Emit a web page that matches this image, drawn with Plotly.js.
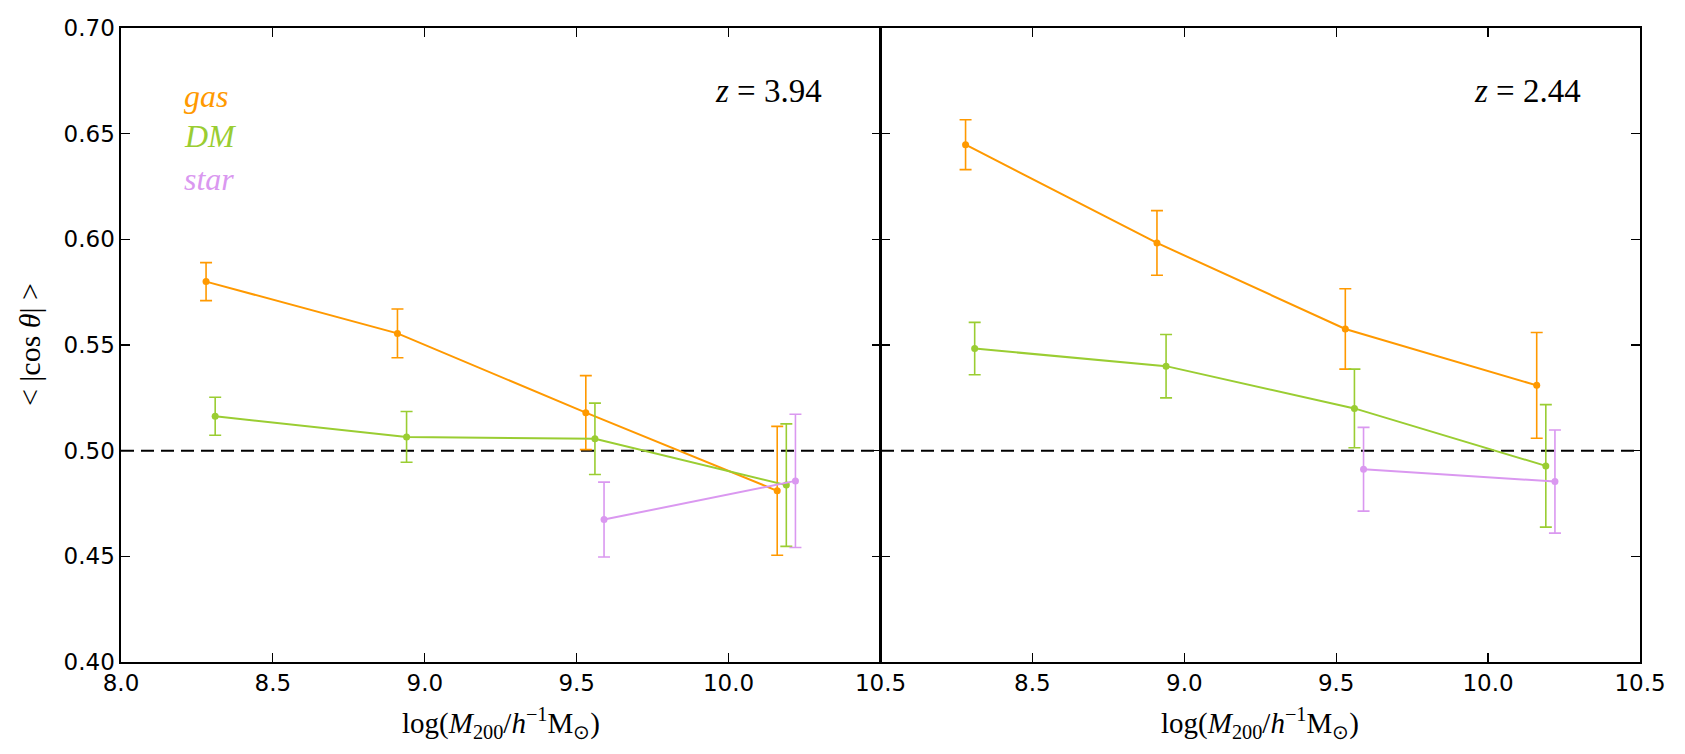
<!DOCTYPE html>
<html>
<head>
<meta charset="utf-8">
<script src="https://cdn.plot.ly/plotly-3.0.1.min.js"></script>
<style>html,body{margin:0;padding:0;background:#fff;}#chart{width:1685px;height:754px;}</style>
</head>
<body>
<div id="chart"></div>
<script>
// ---- data ----
const gasX  = [8.28, 8.91, 9.53, 10.16];
const dmX   = [8.31, 8.94, 9.56, 10.19];
const starX = [9.59, 10.22];

// panel 1: z = 3.94
const gasY1  = [0.580, 0.5555, 0.518, 0.481];
const gasE1  = [0.009, 0.0115, 0.0175, 0.0305];
const dmY1   = [0.5163, 0.5065, 0.5056, 0.4837];
const dmE1   = [0.009, 0.012, 0.0169, 0.029];
const starY1 = [0.4674, 0.4857];
const starE1 = [0.0177, 0.0315];

// panel 2: z = 2.44
const gasY2  = [0.6448, 0.5983, 0.5576, 0.5309];
const gasE2  = [0.0118, 0.0153, 0.019, 0.025];
const dmY2   = [0.5483, 0.540, 0.520, 0.4928];
const dmE2   = [0.0124, 0.015, 0.0186, 0.029];
const starY2 = [0.4912, 0.4854];
const starE2 = [0.0198, 0.0244];

const panelLabels = ["z = 3.94", "z = 2.44"];
const seriesNames = ["gas", "DM", "star"];
const refLevel = 0.5;
const xTicks1 = [8.0, 8.5, 9.0, 9.5, 10.0, 10.5];
const xTicks2 = [8.5, 9.0, 9.5, 10.0, 10.5];
const yTicks  = [0.40, 0.45, 0.50, 0.55, 0.60, 0.65, 0.70];

// ---- styling ----
const COLORS = {gas: "#FF9900", DM: "#9ACD32", star: "#DA98F0"};

function series(x, y, e, color, xa, ya, name) {
  return {
    type: "scatter", mode: "lines+markers", name: name,
    x: x, y: y, xaxis: xa, yaxis: ya,
    line: {color: color, width: 2},
    marker: {color: color, size: 7},
    error_y: {type: "data", array: e, visible: true, color: color, thickness: 1.6, width: 6},
    showlegend: false, cliponaxis: false
  };
}

const traces = [
  series(gasX, gasY1, gasE1, COLORS.gas, "x", "y", "gas"),
  series(dmX, dmY1, dmE1, COLORS.DM, "x", "y", "DM"),
  series(starX, starY1, starE1, COLORS.star, "x", "y", "star"),
  series(gasX, gasY2, gasE2, COLORS.gas, "x2", "y2", "gas"),
  series(dmX, dmY2, dmE2, COLORS.DM, "x2", "y2", "DM"),
  series(starX, starY2, starE2, COLORS.star, "x2", "y2", "star")
];

const tickFont = {family: "DejaVu Sans", size: 23, color: "#000"};
const axisCommon = {
  showline: true, linecolor: "#000", linewidth: 1.6, mirror: "ticks",
  ticks: "inside", ticklen: 9, tickwidth: 1.2, tickcolor: "#000",
  showgrid: false, zeroline: false, tickfont: tickFont, fixedrange: true
};

const serif = "Liberation Serif";
const NB = "\u00A0";
const annotations = [];
// legend-like labels
const legendY = [0.893, 0.830, 0.762];
seriesNames.forEach((n, i) => {
  annotations.push({
    xref: "x domain", yref: "y domain", x: 0.08, y: legendY[i],
    xanchor: "left", yanchor: "middle", showarrow: false,
    text: "<i>" + n + "</i>", font: {family: serif, size: 32, color: COLORS[n]}
  });
});
// panel labels
["x", "x2"].forEach((xa, i) => {
  const parts = panelLabels[i].split(" = ");
  annotations.push({
    xref: xa + " domain", yref: "y domain", x: 0.925, y: 0.901,
    xanchor: "right", yanchor: "middle", showarrow: false,
    text: "<i>" + parts[0] + "</i>" + NB + "=" + NB + parts[1], font: {family: serif, size: 33, color: "#000"}
  });
  annotations.push({
    xref: xa + " domain", yref: "paper", x: 0.5, y: -0.097,
    xanchor: "center", yanchor: "middle", showarrow: false,
    text: "log(<i>M</i><sub>200</sub>/<i>h</i><sup>−1</sup>M<sub>⊙</sub>)",
    font: {family: serif, size: 29, color: "#000"}
  });
});
// y title
annotations.push({
  xref: "paper", yref: "paper", x: -0.0605, y: 0.5,
  xanchor: "center", yanchor: "middle", showarrow: false, textangle: -90,
  text: "<" + NB + "|cos" + NB + "<i>θ</i>|" + NB + ">", font: {family: serif, size: 30, color: "#000"}
});

const layout = {
  width: 1685, height: 754,
  margin: {l: 121, r: 45, t: 28, b: 92},
  paper_bgcolor: "#fff", plot_bgcolor: "#fff",
  showlegend: false,
  xaxis: Object.assign({}, axisCommon, {domain: [0, 0.5], range: [8.0, 10.5], tickvals: xTicks1, tickformat: ".1f", anchor: "y"}),
  xaxis2: Object.assign({}, axisCommon, {domain: [0.5, 1], range: [8.0, 10.5], tickvals: xTicks2, tickformat: ".1f", anchor: "y2"}),
  yaxis: Object.assign({}, axisCommon, {range: [0.40, 0.70], tickvals: yTicks, tickformat: ".2f", anchor: "x"}),
  yaxis2: Object.assign({}, axisCommon, {range: [0.40, 0.70], tickvals: yTicks, showticklabels: false, anchor: "x2", matches: "y"}),
  shapes: [
    {type: "line", xref: "paper", yref: "y", x0: 0, x1: 1, y0: refLevel, y1: refLevel,
     line: {color: "#000", width: 2, dash: "13px,7px"}, layer: "below"}
  ],
  annotations: annotations
};

Plotly.newPlot("chart", traces, layout, {displayModeBar: false, staticPlot: true});
</script>
</body>
</html>
